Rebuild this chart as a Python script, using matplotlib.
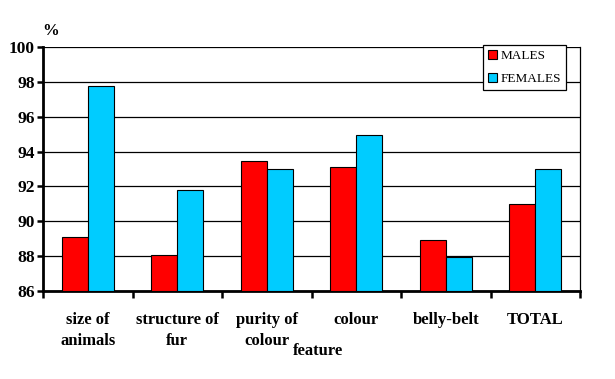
import matplotlib
matplotlib.use("Agg")
import matplotlib.pyplot as plt
import numpy as np

categories = ["size of\nanimals", "structure of\nfur", "purity of\ncolour", "colour", "belly-belt", "TOTAL"]
males = [89.1, 88.05, 93.45, 93.1, 88.9, 91.0]
females = [97.75, 91.8, 93.0, 94.95, 87.95, 93.0]
yticks = [86, 88, 90, 92, 94, 96, 98, 100]

plt.rcParams['font.family'] = ['Liberation Serif', 'DejaVu Serif']

fig = plt.figure(figsize=(6.15, 3.79), dpi=100)
ax = fig.add_axes([43/615, 1-291/379, (580-43)/615, (291-47)/379])

x = np.arange(len(categories))
w = 0.29
ax.bar(x - w/2, [m - 86 for m in males], w, bottom=86, color="#ff0000", edgecolor="black", linewidth=0.8, label="MALES", zorder=3)
ax.bar(x + w/2, [f - 86 for f in females], w, bottom=86, color="#00ccff", edgecolor="black", linewidth=0.8, label="FEMALES", zorder=3)

ax.set_xlim(-0.5, len(categories) - 0.5)
ax.set_ylim(86, 100)
ax.set_yticks(yticks)
ax.set_yticklabels([str(t) for t in yticks], fontsize=12.5, fontweight="bold")
ax.yaxis.grid(True, color="black", linewidth=0.9, zorder=0)
ax.set_axisbelow(True)

ax.set_xticks(np.arange(len(categories) + 1) - 0.5)
ax.set_xticklabels([])
ax.tick_params(axis="x", direction="out", length=5, width=1.8, color="black")
ax.tick_params(axis="y", direction="out", length=4, width=1.8, color="black", pad=2)
for i, c in enumerate(categories):
    ax.text(i, -0.085, c, transform=ax.get_xaxis_transform(), ha="center", va="top",
            fontsize=12, fontweight="bold", linespacing=1.45)

ax.spines["left"].set_linewidth(2)
ax.spines["bottom"].set_linewidth(2)
ax.spines["top"].set_visible(False)
ax.spines["right"].set_linewidth(0.9)

fig.text(51/615, 1-31/379, "%", fontsize=12, fontweight="bold", ha="center", va="center")
fig.text(318/615, 1-351/379, "feature", fontsize=12, fontweight="bold", ha="center", va="center")

leg = ax.legend(loc="upper right", bbox_to_anchor=(566/615, 1-45/379), bbox_transform=fig.transFigure,
                fontsize=9.5, frameon=True, fancybox=False, edgecolor="black", framealpha=1,
                handlelength=0.7, handleheight=0.7, handletextpad=0.3, borderpad=0.35, labelspacing=0.85,
                borderaxespad=0)
leg.get_frame().set_linewidth(0.9)
leg.set_zorder(5)

fig.savefig("out.png", dpi=100)
